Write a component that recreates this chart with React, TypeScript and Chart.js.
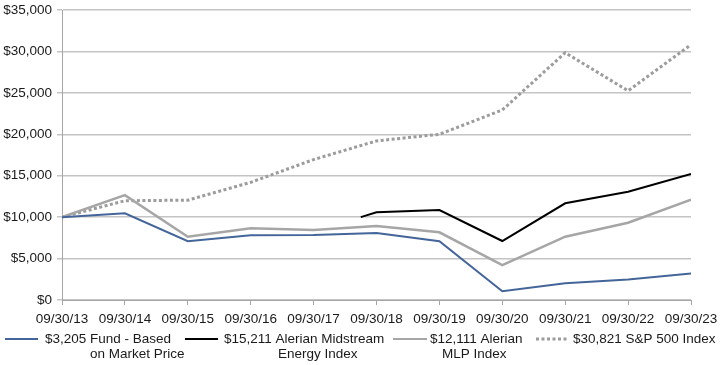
import React, { useEffect, useRef } from "react";
import { Chart, registerables } from "chart.js";

Chart.register(...registerables);

const categories = ["09/30/13", "09/30/14", "09/30/15", "09/30/16", "09/30/17", "09/30/18", "09/30/19", "09/30/20", "09/30/21", "09/30/22", "09/30/23"];
const fundValues = [10000, 10460, 7100, 7800, 7850, 8080, 7100, 1050, 2010, 2480, 3205];
const mlpValues = [10000, 12650, 7640, 8650, 8450, 8930, 8170, 4220, 7640, 9330, 12111];
const spValues = [10000, 11980, 12050, 14200, 16950, 19200, 20000, 22930, 29850, 25250, 30821];
const midstreamPositions = [4.75, 5, 6, 7, 8, 9, 10];
const midstreamValues = [10000, 10580, 10860, 7120, 11670, 13070, 15211];
const yTicks = [0, 5000, 10000, 15000, 20000, 25000, 30000, 35000];
const legendLabels = [
  ["$3,205 Fund - Based", "on Market Price"],
  ["$15,211 Alerian Midstream", "Energy Index"],
  ["$12,111 Alerian", "MLP Index"],
  ["$30,821 S&P 500 Index"],
];

const FONT = "Arial, 'Liberation Sans', sans-serif";
const FONT_SIZE = 13.5;
const COLORS = { fund: "#44659a", mid: "#000000", mlp: "#a6a6a6", sp: "#9c9c9c" };

export default function App() {
  const ref = useRef<HTMLCanvasElement | null>(null);

  useEffect(() => {
    if (!ref.current) return;
    const legendPlugin = {
      id: "customLegend",
      afterDraw(chart: any) {
        const ctx = chart.ctx;
        ctx.save();
        ctx.font = `${FONT_SIZE}px ${FONT}`;
        ctx.fillStyle = "#1a1a1a";
        ctx.textBaseline = "middle";
        ctx.textAlign = "left";
        const items = [
          { x0: 5, x1: 38, t1: 45, t2: 90, color: COLORS.fund, dash: [] as number[], w: 2 },
          { x0: 185, x1: 218, t1: 224, t2: 278, color: COLORS.mid, dash: [], w: 2 },
          { x0: 393, x1: 427, t1: 430, t2: 442, color: COLORS.mlp, dash: [], w: 2 },
          { x0: 536, x1: 568, t1: 573, t2: 573, color: COLORS.sp, dash: [3, 2.5], w: 3 },
        ];
        items.forEach((it, i) => {
          ctx.beginPath();
          ctx.strokeStyle = it.color;
          ctx.lineWidth = it.w;
          ctx.setLineDash(it.dash);
          ctx.moveTo(it.x0, 339);
          ctx.lineTo(it.x1, 339);
          ctx.stroke();
          ctx.setLineDash([]);
          const lines = legendLabels[i];
          ctx.fillText(lines[0], it.t1, 339);
          if (lines[1]) ctx.fillText(lines[1], it.t2, 354);
        });
        ctx.restore();
      },
    };

    const chart = new Chart(ref.current, {
      type: "line",
      data: {
        datasets: [
          {
            label: legendLabels[0].join(" "),
            data: fundValues.map((v, i) => ({ x: i, y: v })),
            borderColor: COLORS.fund,
            borderWidth: 2,
            pointRadius: 0,
            tension: 0,
          },
          {
            label: legendLabels[1].join(" "),
            data: midstreamValues.map((v, i) => ({ x: midstreamPositions[i], y: v })),
            borderColor: COLORS.mid,
            borderWidth: 2,
            pointRadius: 0,
            tension: 0,
          },
          {
            label: legendLabels[2].join(" "),
            data: mlpValues.map((v, i) => ({ x: i, y: v })),
            borderColor: COLORS.mlp,
            borderWidth: 2.5,
            pointRadius: 0,
            tension: 0,
          },
          {
            label: legendLabels[3].join(" "),
            data: spValues.map((v, i) => ({ x: i, y: v })),
            borderColor: COLORS.sp,
            borderWidth: 3,
            borderDash: [3, 2.5],
            pointRadius: 0,
            tension: 0,
          },
        ],
      },
      options: {
        responsive: false,
        animation: false,
        layout: { padding: { top: 10, right: 29, left: 0, bottom: 0 } },
        plugins: { legend: { display: false }, tooltip: { enabled: false } },
        scales: {
          x: {
            type: "linear",
            min: 0,
            max: categories.length - 1,
            afterBuildTicks(scale: any) {
              scale.ticks = categories.map((_, i) => ({ value: i }));
            },
            afterFit(scale: any) {
              scale.height = 65;
              scale.paddingLeft = 0;
              scale.paddingRight = 0;
            },
            ticks: {
              autoSkip: false,
              maxRotation: 0,
              padding: 6,
              color: "#1a1a1a",
              font: { family: FONT, size: FONT_SIZE },
              callback: (v: any) => categories[Math.round(Number(v))] ?? "",
            },
            grid: {
              drawOnChartArea: false,
              drawTicks: true,
              tickLength: 5,
              color: "#a6a6a6",
            },
            border: { color: "#a6a6a6", width: 1 },
          },
          y: {
            min: 0,
            max: 35000,
            afterBuildTicks(scale: any) {
              scale.ticks = yTicks.map((v) => ({ value: v }));
            },
            afterFit(scale: any) {
              scale.width = 62;
              scale.paddingTop = 0;
              scale.paddingBottom = 0;
            },
            ticks: {
              padding: 5,
              color: "#1a1a1a",
              font: { family: FONT, size: FONT_SIZE },
              callback: (v: any) => "$" + Number(v).toLocaleString("en-US"),
            },
            grid: {
              color: "#c4c4c4",
              lineWidth: 1.5,
              tickLength: 5,
            },
            border: { color: "#a6a6a6", width: 1 },
          },
        },
      },
      plugins: [legendPlugin],
    });
    return () => chart.destroy();
  }, []);

  return (
    <div style={{ position: "absolute", left: 0, top: 0, width: 720, height: 365, background: "#fff" }}>
      <canvas ref={ref} width={720} height={365} style={{ width: 720, height: 365, display: "block" }} />
    </div>
  );
}
